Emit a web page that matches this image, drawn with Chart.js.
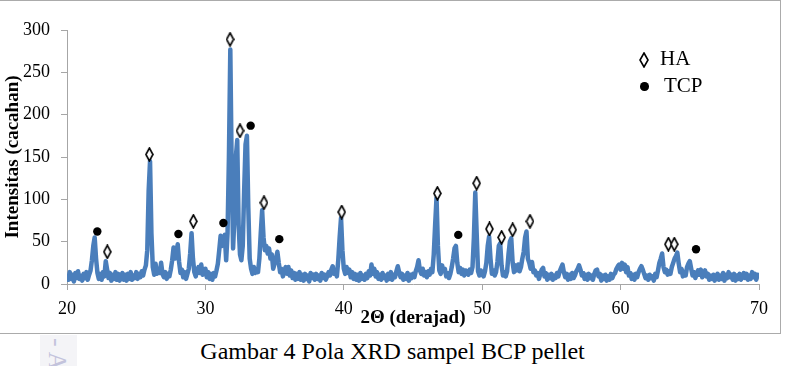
<!DOCTYPE html>
<html>
<head>
<meta charset="utf-8">
<title>Pola XRD sampel BCP pellet</title>
<script src="https://cdn.jsdelivr.net/npm/chart.js@4.4.1/dist/chart.umd.min.js"></script>
<style>
  body { margin: 0; background: #fff; font-family: 'Liberation Serif', 'Times New Roman', serif; }
  #wrap { position: relative; width: 785px; height: 366px; overflow: hidden; }
  #frame { position: absolute; left: -2px; top: 0; width: 781px; height: 332px; border: 1px solid #ababab; }
  #xrd { position: absolute; left: 0; top: 0; }
  .lg { position: absolute; font-size: 21px; line-height: 21px; color: #000; }
  #dot { position: absolute; left: 640px; top: 82px; width: 8.5px; height: 8.5px; border-radius: 50%; background: #000; }
  #mark { position: absolute; left: 639px; top: 52px; }
  #strip { position: absolute; left: 40px; top: 335px; width: 37px; height: 31px; background: #f4f4f7; }
  #wm { position: absolute; left: 44px; top: 338px; font-size: 26px; color: #c3c3dc; transform: rotate(90deg); transform-origin: 14px 14px; }
  #caption { position: absolute; left: 0; top: 339px; width: 785px; text-align: center; font-size: 24px; line-height: 24px; color: #000; }
</style>
</head>
<body>
<div id="wrap">
  <div id="frame"></div>
  <div id="strip"></div>
  <div id="wm">- A</div>
  <canvas id="xrd" width="785" height="334"></canvas>
  <span id="mark"></span>
  <div class="lg" style="left:660px; top:48px;">HA</div>
  <div id="dot"></div>
  <div class="lg" style="left:664px; top:75px;">TCP</div>
  <div id="caption">Gambar 4 Pola XRD sampel BCP pellet</div>
</div>
<script>
// 2-theta positions (derajad) and intensity (cacahan)
var twoTheta = [
  20.0,20.1,20.2,20.3,20.4,20.5,20.6,20.7,20.8,20.9,
  21.0,21.1,21.2,21.3,21.4,21.5,21.6,21.7,21.8,21.9,
  22.0,22.1,22.2,22.3,22.4,22.5,22.6,22.7,22.8,22.9,
  23.0,23.1,23.2,23.3,23.4,23.5,23.6,23.7,23.8,23.9,
  24.0,24.1,24.2,24.3,24.4,24.5,24.6,24.7,24.8,24.9,
  25.0,25.1,25.2,25.3,25.4,25.5,25.6,25.7,25.8,25.9,
  26.0,26.1,26.2,26.3,26.4,26.5,26.6,26.7,26.8,26.9,
  27.0,27.1,27.2,27.3,27.4,27.5,27.6,27.7,27.8,27.9,
  28.0,28.1,28.2,28.3,28.4,28.5,28.6,28.7,28.8,28.9,
  29.0,29.1,29.2,29.3,29.4,29.5,29.6,29.7,29.8,29.9,
  30.0,30.1,30.2,30.3,30.4,30.5,30.6,30.7,30.8,30.9,
  31.0,31.1,31.2,31.3,31.4,31.5,31.6,31.7,31.8,31.9,
  32.0,32.1,32.2,32.3,32.4,32.5,32.6,32.7,32.8,32.9,
  33.0,33.1,33.2,33.3,33.4,33.5,33.6,33.7,33.8,33.9,
  34.0,34.1,34.2,34.3,34.4,34.5,34.6,34.7,34.8,34.9,
  35.0,35.1,35.2,35.3,35.4,35.5,35.6,35.7,35.8,35.9,
  36.0,36.1,36.2,36.3,36.4,36.5,36.6,36.7,36.8,36.9,
  37.0,37.1,37.2,37.3,37.4,37.5,37.6,37.7,37.8,37.9,
  38.0,38.1,38.2,38.3,38.4,38.5,38.6,38.7,38.8,38.9,
  39.0,39.1,39.2,39.3,39.4,39.5,39.6,39.7,39.8,39.9,
  40.0,40.1,40.2,40.3,40.4,40.5,40.6,40.7,40.8,40.9,
  41.0,41.1,41.2,41.3,41.4,41.5,41.6,41.7,41.8,41.9,
  42.0,42.1,42.2,42.3,42.4,42.5,42.6,42.7,42.8,42.9,
  43.0,43.1,43.2,43.3,43.4,43.5,43.6,43.7,43.8,43.9,
  44.0,44.1,44.2,44.3,44.4,44.5,44.6,44.7,44.8,44.9,
  45.0,45.1,45.2,45.3,45.4,45.5,45.6,45.7,45.8,45.9,
  46.0,46.1,46.2,46.3,46.4,46.5,46.6,46.7,46.8,46.9,
  47.0,47.1,47.2,47.3,47.4,47.5,47.6,47.7,47.8,47.9,
  48.0,48.1,48.2,48.3,48.4,48.5,48.6,48.7,48.8,48.9,
  49.0,49.1,49.2,49.3,49.4,49.5,49.6,49.7,49.8,49.9,
  50.0,50.1,50.2,50.3,50.4,50.5,50.6,50.7,50.8,50.9,
  51.0,51.1,51.2,51.3,51.4,51.5,51.6,51.7,51.8,51.9,
  52.0,52.1,52.2,52.3,52.4,52.5,52.6,52.7,52.8,52.9,
  53.0,53.1,53.2,53.3,53.4,53.5,53.6,53.7,53.8,53.9,
  54.0,54.1,54.2,54.3,54.4,54.5,54.6,54.7,54.8,54.9,
  55.0,55.1,55.2,55.3,55.4,55.5,55.6,55.7,55.8,55.9,
  56.0,56.1,56.2,56.3,56.4,56.5,56.6,56.7,56.8,56.9,
  57.0,57.1,57.2,57.3,57.4,57.5,57.6,57.7,57.8,57.9,
  58.0,58.1,58.2,58.3,58.4,58.5,58.6,58.7,58.8,58.9,
  59.0,59.1,59.2,59.3,59.4,59.5,59.6,59.7,59.8,59.9,
  60.0,60.1,60.2,60.3,60.4,60.5,60.6,60.7,60.8,60.9,
  61.0,61.1,61.2,61.3,61.4,61.5,61.6,61.7,61.8,61.9,
  62.0,62.1,62.2,62.3,62.4,62.5,62.6,62.7,62.8,62.9,
  63.0,63.1,63.2,63.3,63.4,63.5,63.6,63.7,63.8,63.9,
  64.0,64.1,64.2,64.3,64.4,64.5,64.6,64.7,64.8,64.9,
  65.0,65.1,65.2,65.3,65.4,65.5,65.6,65.7,65.8,65.9,
  66.0,66.1,66.2,66.3,66.4,66.5,66.6,66.7,66.8,66.9,
  67.0,67.1,67.2,67.3,67.4,67.5,67.6,67.7,67.8,67.9,
  68.0,68.1,68.2,68.3,68.4,68.5,68.6,68.7,68.8,68.9,
  69.0,69.1,69.2,69.3,69.4,69.5,69.6,69.7,69.8,69.9,
  70.0
];
var counts = [
  12,5,14,6,11,3,13,7,15,6,
  10,4,12,7,14,5,11,16,28,45,
  55,30,13,6,12,5,14,9,27,17,
  7,13,4,11,6,14,5,12,4,10,
  13,5,11,4,12,6,14,5,10,7,
  14,6,12,8,15,10,17,22,40,110,
  145,60,20,11,24,12,17,13,25,12,
  8,14,6,12,9,17,28,43,30,36,
  47,26,13,17,8,14,6,12,18,36,
  60,30,14,9,16,20,13,23,11,17,
  18,8,14,6,12,5,13,9,16,24,
  40,57,45,50,58,28,60,150,277,135,
  42,80,150,170,70,35,28,45,110,165,
  175,90,30,18,12,20,13,17,14,30,
  60,87,55,40,45,36,42,30,35,18,
  24,30,38,25,14,18,9,15,20,12,
  20,10,16,7,13,5,12,6,14,5,
  11,4,12,6,10,3,13,7,11,5,
  12,6,10,4,13,7,11,5,9,14,
  10,17,21,12,16,9,28,55,78,40,
  18,12,20,13,17,8,14,6,12,5,
  11,4,13,6,10,5,12,7,15,10,
  23,12,18,9,14,6,11,5,13,7,
  10,4,12,6,14,5,11,8,15,21,
  14,8,12,5,10,6,13,4,11,7,
  12,8,15,20,28,16,12,18,10,14,
  8,15,11,18,14,35,70,102,45,16,
  12,22,15,18,9,13,7,12,20,30,
  42,45,25,14,19,12,17,10,16,14,
  11,17,13,20,55,108,60,15,10,16,
  12,9,15,25,45,56,30,12,16,10,
  14,26,45,48,22,10,14,9,15,35,
  50,54,25,14,22,16,23,15,20,30,
  38,55,62,30,25,18,26,14,16,10,
  13,6,12,17,19,9,13,5,11,7,
  12,5,10,7,13,9,15,19,23,14,
  8,12,5,11,6,13,7,10,15,18,
  22,17,10,13,6,11,5,12,7,10,
  5,12,16,17,9,12,4,10,6,11,
  4,9,5,12,7,11,13,18,21,23,
  17,25,18,23,14,20,10,13,6,11,
  5,12,8,14,18,21,17,12,7,10,
  5,11,7,9,4,12,8,16,25,30,
  36,20,14,17,11,15,12,20,25,30,
  33,37,24,14,18,9,14,10,20,24,
  27,18,10,14,7,12,16,11,17,8,
  13,16,9,12,5,10,6,11,4,9,
  12,5,10,6,13,4,11,7,14,8,
  11,5,12,4,10,6,12,5,9,13,
  7,12,5,10,6,14,8,12,5,11,
  9
];

// phase markers: HA (diamond) and TCP (filled circle)
var haAngles  = [22.91, 25.95, 29.13, 31.78, 32.5, 34.23, 39.85, 46.76, 49.6, 50.52, 51.4, 52.2, 53.45, 63.45, 63.88];
var haHeights = [38, 153, 74, 289, 181, 96, 85, 107, 119, 65, 55, 64, 74, 47, 47];
var tcpAngles  = [22.19, 28.05, 31.3, 33.27, 35.34, 48.27, 65.45];
var tcpHeights = [62, 59, 72, 187, 53, 58, 41];

var xTicks = [20, 30, 40, 50, 60, 70];
var yTicks = [0, 50, 100, 150, 200, 250, 300];

function pairUp(xs, ys){
    var out = [];
    for (var i = 0; i < xs.length; i++) out.push({x: xs[i], y: ys[i]});
    return out;
}

function makeDiamond(w, h){
    var c = document.createElement('canvas');
    c.width = w; c.height = h;
    var g = c.getContext('2d');
    g.beginPath();
    g.moveTo(w / 2, 1);
    g.lineTo(w - 1, h / 2);
    g.lineTo(w / 2, h - 1);
    g.lineTo(1, h / 2);
    g.closePath();
    g.fillStyle = '#fff';
    g.fill();
    g.lineWidth = 1.6;
    g.strokeStyle = '#000';
    g.stroke();
    return c;
}

var diamond = makeDiamond(9, 15);
document.getElementById('mark').appendChild(makeDiamond(10, 16));

Chart.defaults.font.family = "'Liberation Serif', 'Times New Roman', serif";
Chart.defaults.color = '#000';

var axisGrey = '#a6a6a6';
var ctx = document.getElementById('xrd').getContext('2d');
var xrdChart = new Chart(ctx, {
    type: 'scatter',
    data: {
        datasets: [
            {
                label: 'HA',
                data: pairUp(haAngles, haHeights),
                pointStyle: diamond,
                pointRadius: 7,
                order: 0
            },
            {
                label: 'TCP',
                data: pairUp(tcpAngles, tcpHeights),
                pointStyle: 'circle',
                pointRadius: 4.2,
                backgroundColor: '#000',
                borderColor: '#000',
                borderWidth: 0,
                order: 0
            },
            {
                label: 'XRD',
                data: pairUp(twoTheta, counts),
                showLine: true,
                borderColor: '#4a7ebb',
                borderWidth: 4.5,
                borderJoinStyle: 'round',
                pointRadius: 0,
                tension: 0,
                order: 1
            }
        ]
    },
    options: {
        responsive: false,
        animation: false,
        layout: {padding: {top: 30, right: 26, bottom: 0, left: 0}},
        plugins: {legend: {display: false}, tooltip: {enabled: false}},
        scales: {
            x: {
                type: 'linear',
                min: xTicks[0],
                max: xTicks[xTicks.length - 1],
                afterBuildTicks: function(s){ s.ticks = xTicks.map(function(v){ return {value: v}; }); },
                afterFit: function(s){ s.height = 50; },
                ticks: {font: {size: 18}, padding: 8, maxRotation: 0},
                grid: {drawOnChartArea: false, drawTicks: true, tickLength: 6, color: axisGrey},
                border: {color: axisGrey},
                title: {display: true, text: '2Θ (derajad)', font: {size: 19, weight: 'bold'}, padding: {top: 0, bottom: 5}}
            },
            y: {
                min: yTicks[0],
                max: yTicks[yTicks.length - 1],
                afterBuildTicks: function(s){ s.ticks = yTicks.map(function(v){ return {value: v}; }); },
                afterFit: function(s){ s.width = 67; },
                ticks: {font: {size: 18}, padding: 11},
                grid: {drawOnChartArea: false, drawTicks: true, tickLength: 6, color: axisGrey},
                border: {color: axisGrey},
                title: {display: true, text: 'Intensitas (cacahan)', font: {size: 19, weight: 'bold'}, padding: {top: 2, bottom: 0}}
            }
        }
    }
});
</script>
</body>
</html>
